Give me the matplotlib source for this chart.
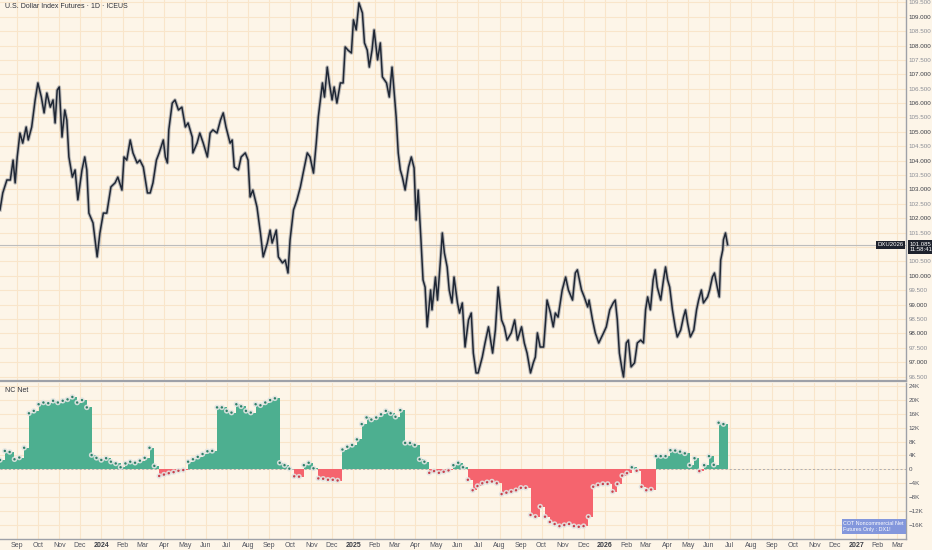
import numpy as np
import pandas as pd
import matplotlib
matplotlib.use("Agg")
import matplotlib.pyplot as plt
import matplotlib.dates as mdates
import matplotlib.transforms as mtransforms

# daily closes of DXU2026 (days after 2023-08-07)
price_start = pd.Timestamp("2023-08-07")
price_days = [
    0, 4, 10, 15, 19, 22, 25, 29, 33, 38,
    41, 46, 51, 55, 60, 64, 68, 73, 77, 80,
    83, 86, 90, 94, 97, 100, 105, 109, 113, 119,
    123, 126, 129, 135, 138, 141, 145, 150, 155, 161,
    167, 171, 177, 180, 184, 189, 193, 199, 203, 208,
    214, 218, 222, 227, 231, 237, 240, 243, 245, 250,
    254, 259, 264, 269, 273, 279, 280, 286, 290, 295,
    301, 305, 309, 315, 320, 324, 328, 334, 337, 340,
    346, 350, 356, 360, 363, 367, 373, 378, 382, 388,
    392, 395, 401, 404, 410, 414, 418, 421, 426, 431,
    436, 440, 446, 450, 455, 459, 462, 468, 471, 475,
    478, 482, 485, 489, 494, 498, 501, 505, 510, 513,
    517, 521, 526, 529, 533, 536, 540, 543, 548, 552,
    555, 561, 565, 569, 571, 575, 578, 581, 584, 588,
    593, 597, 601, 604, 607, 611, 614, 617, 620, 625,
    627, 632, 635, 639, 642, 645, 649, 652, 656, 659,
    664, 667, 671, 675, 680, 684, 687, 691, 694, 700,
    704, 709, 715, 719, 723, 728, 732, 736, 742, 747,
    751, 757, 761, 765, 770, 774, 777, 780, 784, 789,
    792, 794, 799, 803, 806, 810, 816, 821, 825, 831,
    835, 838, 844, 848, 853, 855, 860, 864, 869, 876,
    880, 885, 890, 893, 896, 899, 903, 905, 909, 912,
    916, 921, 925, 930, 934, 937, 940, 944, 948, 951,
    954, 959, 963, 966, 969, 972, 976, 980, 983, 988,
    992, 995, 998, 1002, 1007, 1011, 1014, 1018, 1021, 1027,
    1030, 1034, 1037, 1041, 1044, 1046, 1049, 1050, 1053, 1056,
]
price_close = [
    102.29, 102.88, 103.33, 103.33, 104.02, 103.23, 104.13, 104.96, 104.61, 105.17,
    104.72, 105.17, 106.11, 106.70, 106.21, 105.66, 106.35, 105.86, 106.11, 105.31,
    106.45, 106.56, 104.82, 105.76, 105.41, 104.13, 103.43, 103.68, 102.64, 103.68,
    104.13, 103.68, 102.18, 101.84, 101.25, 100.66, 101.49, 102.18, 102.18, 103.09,
    103.23, 103.43, 102.98, 104.13, 104.02, 104.72, 104.27, 103.92, 104.02, 103.78,
    102.88, 102.88, 103.23, 104.02, 104.27, 104.72, 104.13, 103.92, 105.07, 106.00,
    106.11, 105.76, 105.86, 105.17, 105.31, 104.82, 104.27, 104.61, 104.96, 104.61,
    104.13, 104.96, 105.07, 104.96, 105.41, 105.66, 105.17, 104.61, 104.72, 103.78,
    103.68, 104.13, 104.27, 104.02, 102.74, 102.98, 102.39, 101.49, 100.66, 101.14,
    101.59, 101.14, 101.59, 100.66, 100.45, 100.55, 100.10, 101.25, 102.29, 102.64,
    103.09, 103.57, 104.27, 104.13, 103.57, 104.61, 105.52, 106.70, 106.21, 107.25,
    106.70, 106.11, 106.56, 106.00, 106.70, 106.70, 107.95, 107.84, 107.74, 108.89,
    108.54, 109.48, 109.13, 108.09, 107.84, 107.25, 107.84, 108.54, 107.50, 108.09,
    106.91, 106.70, 106.21, 107.25, 106.70, 105.52, 104.27, 103.68, 103.43, 102.98,
    103.78, 104.13, 103.75, 101.94, 102.98, 101.25, 99.86, 99.61, 98.23, 99.51,
    98.82, 99.96, 99.16, 100.45, 101.49, 100.80, 100.31, 99.51, 99.06, 99.96,
    99.06, 98.71, 99.06, 97.53, 98.47, 98.71, 97.32, 96.63, 96.63, 97.18,
    97.67, 98.23, 97.32, 98.12, 99.61, 98.47, 98.23, 97.77, 98.02, 98.47,
    97.77, 98.23, 97.67, 97.32, 96.63, 96.98, 97.18, 98.02, 97.53, 97.53,
    98.47, 99.16, 98.71, 98.23, 98.71, 98.57, 99.51, 99.96, 99.51, 99.16,
    100.10, 100.21, 99.51, 99.27, 98.92, 99.16, 98.47, 98.02, 97.67, 98.02,
    98.23, 98.82, 99.06, 99.16, 98.47, 97.32, 96.73, 96.49, 97.67, 97.77,
    96.84, 96.98, 97.67, 97.77, 97.67, 98.82, 99.27, 98.82, 99.86, 100.21,
    99.61, 99.16, 99.86, 100.31, 99.86, 99.61, 98.82, 98.23, 97.88, 98.12,
    98.57, 98.82, 98.36, 97.88, 98.12, 98.82, 99.16, 99.51, 99.06, 99.27,
    99.51, 99.96, 100.10, 99.61, 99.27, 100.55, 100.90, 101.25, 101.49, 101.085,
]

# weekly COT non-commercial net (thousands of contracts), weeks from 2023-08-07
cot_start = "2023-08-07"
cot_net_k = [
    2.7, 5.3, 5.0, 2.9, 3.4, 6.2, 16.1, 16.8, 18.7, 19.2,
    19.0, 19.7, 19.2, 19.7, 20.1, 20.8, 19.2, 19.9, 17.8, 4.1,
    3.3, 2.7, 3.2, 2.2, 1.7, 0.6, 1.7, 2.2, 1.9, 2.5,
    3.3, 6.2, 1.0, -1.9, -1.5, -1.1, -0.8, -0.4, -0.2, 2.2,
    2.9, 3.6, 4.4, 5.2, 5.3, 17.8, 17.8, 16.8, 16.3, 18.7,
    18.1, 16.8, 16.3, 18.7, 18.4, 19.2, 19.9, 20.4, 1.9, 1.2,
    0.2, -2.0, -2.1, 1.2, 1.9, 0.3, -2.6, -2.7, -3.0, -3.0,
    -3.2, 5.7, 6.5, 7.0, 8.6, 13.0, 14.9, 14.3, 14.9, 15.8,
    16.8, 16.1, 15.1, 17.0, 7.6, 7.6, 7.0, 2.9, 2.2, -1.0,
    -0.5, -1.0, -0.7, -0.3, 1.2, 1.9, 0.6, -3.0, -6.0, -4.8,
    -4.0, -3.7, -3.5, -4.0, -7.1, -6.7, -6.4, -6.0, -5.3, -5.3,
    -13.1, -13.6, -10.7, -13.6, -15.1, -15.7, -16.3, -16.0, -15.7, -16.3,
    -16.5, -16.3, -13.6, -5.0, -4.5, -4.2, -4.2, -6.4, -4.2, -1.8,
    -1.1, 0.6, -0.4, -5.0, -6.0, -5.8, 3.8, 3.8, 3.8, 5.5,
    5.4, 5.1, 4.6, 1.2, 3.2, -0.5, 1.2, 3.8, 1.3, 13.4,
    13.0,
]

price_ticks = np.arange(96.5, 109.51, 0.5)
cot_ticks = [-16, -12, -8, -4, 0, 4, 8, 12, 16, 20, 24]
last_price = 101.085
last_time = "11:58:41"
contract = "DXU2026"

BG = "#FDF5E8"
GRID = "#F9E5CA"
AXIS = "#9EA1A8"
TXT = "#50535E"
GREEN = "#4DAF90"
RED = "#F5646E"
CANDLE = "#1F2735"

plt.rcParams["font.family"] = ["Liberation Sans", "DejaVu Sans"]

fig = plt.figure(figsize=(9.32, 5.5), dpi=100, facecolor=BG)
ax1 = fig.add_axes([0, 1 - 381 / 550, 906 / 932, 381 / 550], facecolor=BG)
ax2 = fig.add_axes([0, 11 / 550, 906 / 932, 156 / 550], facecolor=BG, sharex=ax1)

# price pane
px = mdates.date2num(price_start + pd.to_timedelta(price_days, unit="D"))
ax1.plot(px, price_close, color="#6E7480", lw=2.6, alpha=0.45, zorder=3)
ax1.plot(px, price_close, color=CANDLE, lw=1.1, zorder=4)
ax1.axhline(last_price, color="#BDBDBD", lw=0.8, zorder=2)

ax1.set_ylim(96.35, 109.58)
ax1.set_yticks(price_ticks)
# the last-price tag hides the label nearest to it
ax1.set_yticklabels(["" if abs(v - last_price) < 0.2 else f"{v:.3f}" for v in price_ticks])
for lab, v in zip(ax1.get_yticklabels(), price_ticks):
    if abs(v - round(v)) < 1e-6:
        lab.set_fontweight("bold")

# COT pane
wk = mdates.date2num(pd.date_range(cot_start, periods=len(cot_net_k), freq="7D"))
vals = np.array(cot_net_k)
cols = [GREEN if v >= 0 else RED for v in vals]
ax2.axhline(0, color="#A5A8B0", lw=0.6, ls=(0, (2.5, 2.5)), zorder=1)
ax2.bar(wk, vals, width=7.0, align="edge", color=cols, linewidth=0, zorder=2)
ax2.scatter(wk, vals, s=16, color="#E2E4E2", edgecolors="none", zorder=3, alpha=0.9)
ax2.scatter(wk, vals, s=3, color=["#2E7F67" if v >= 0 else "#C8414B" for v in vals],
            edgecolors="none", zorder=4)
ax2.set_ylim(-20.0, 24.8)
ax2.set_yticks(cot_ticks)
ax2.set_yticklabels(["0" if t == 0 else f"{t}K".replace("-", "\u2212") for t in cot_ticks])

# month axis
months = pd.date_range("2023-09-01", "2027-03-01", freq="MS")
mnum = mdates.date2num(months)
ax2.set_xticks(mnum)
ax2.set_xticklabels([str(m.year) if m.month == 1 else m.strftime("%b") for m in months])
for lab, m in zip(ax2.get_xticklabels(), months):
    if m.month == 1:
        lab.set_fontweight("bold")
ax1.set_xlim(mdates.date2num(pd.Timestamp("2023-08-07")),
             mdates.date2num(pd.Timestamp("2027-03-14")))

for ax in (ax1, ax2):
    ax.grid(True, color=GRID, lw=0.8, zorder=0)
    ax.set_axisbelow(True)
    ax.yaxis.tick_right()
    ax.tick_params(axis="y", length=0, pad=2, labelsize=4.5, colors=TXT)
    ax.tick_params(axis="x", length=0, pad=2.5, labelsize=5, colors=TXT)
    ax.spines["top"].set_visible(False)
    ax.spines["left"].set_visible(False)
    ax.spines["right"].set_color(AXIS)
    ax.spines["right"].set_linewidth(1.0)
    ax.spines["bottom"].set_color(AXIS)
ax1.spines["bottom"].set_linewidth(1.6)
ax2.spines["bottom"].set_linewidth(1.0)
ax1.tick_params(axis="x", labelbottom=False)
for lab, v in zip(ax1.get_yticklabels(), price_ticks):
    lab.set_color("#3A3D45" if abs(v - round(v)) < 1e-6 else "#8A8D95")
for lab, m in zip(ax2.get_xticklabels(), months):
    if m.month == 1:
        lab.set_color("#3A3D45")

# labels and tags
ax1.text(0.006, 0.993, "U.S. Dollar Index Futures \u00b7 1D \u00b7 ICEUS", transform=ax1.transAxes,
         fontsize=5, color="#2E3038", va="top", ha="left")
ax2.text(0.006, 0.975, "NC Net", transform=ax2.transAxes,
         fontsize=5, color="#2E3038", va="top", ha="left")

tr = mtransforms.blended_transform_factory(ax1.transAxes, ax1.transData)
ax1.text(0.997, last_price, contract, transform=tr, fontsize=4.3, color="white",
         ha="right", va="center",
         bbox=dict(boxstyle="square,pad=0.25", fc="#1E222D", ec="none"), zorder=6)
ax1.text(1.004, last_price - 0.08, f"{last_price:.3f}\n{last_time}", transform=tr,
         fontsize=4.3, color="white", ha="left", va="center", linespacing=1.1,
         bbox=dict(boxstyle="square,pad=0.25", fc="#1E222D", ec="none"), zorder=6,
         clip_on=False)

ax2.text(0.931, 0.045, "COT Noncommercial Net\nFutures Only : DX1!", transform=ax2.transAxes,
         fontsize=3.9, color="white", ha="left", va="bottom", linespacing=1.25,
         bbox=dict(boxstyle="square,pad=0.3", fc="#8397DC", ec="none"), zorder=6)

fig.savefig("out.png", dpi=100, facecolor=BG)
